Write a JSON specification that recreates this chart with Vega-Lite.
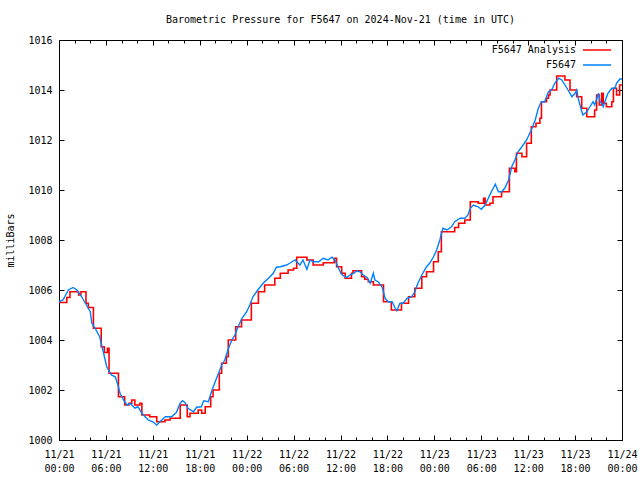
{
  "$schema": "https://vega.github.io/schema/vega-lite/v6.json",
  "width": 563,
  "height": 400,
  "autosize": {"type": "none"},
  "padding": {"left": 59, "top": 40, "right": 18, "bottom": 40},
  "background": "white",
  "title": {"text": "Barometric Pressure for F5647 on 2024-Nov-21 (time in UTC)", "font": "DejaVu Sans Mono", "fontSize": 10, "fontWeight": "normal", "color": "black", "anchor": "middle", "offset": 10},
  "config": {
    "font": "DejaVu Sans Mono",
    "view": {"stroke": "black", "strokeWidth": 1},
    "axis": {"labelFont": "DejaVu Sans Mono", "labelFontSize": 10, "labelColor": "black", "domain": false, "ticks": true, "tickColor": "black", "tickWidth": 1, "tickOpacity": 1, "grid": false, "zindex": 2, "titleFont": "DejaVu Sans Mono", "titleFontSize": 10, "titleFontWeight": "normal", "titleColor": "black", "labelFlush": false, "labelOverlap": false, "labelBound": false}
  },
  "datasets": {
    "obs": [
      {"time": "2024-11-21T00:00:00Z", "pressure": 1005.53},
      {"time": "2024-11-21T00:30:00Z", "pressure": 1005.6},
      {"time": "2024-11-21T01:12:00Z", "pressure": 1006.0},
      {"time": "2024-11-21T01:48:00Z", "pressure": 1006.1},
      {"time": "2024-11-21T02:18:00Z", "pressure": 1006.0},
      {"time": "2024-11-21T02:54:00Z", "pressure": 1005.73},
      {"time": "2024-11-21T03:30:00Z", "pressure": 1005.4},
      {"time": "2024-11-21T04:00:00Z", "pressure": 1005.13},
      {"time": "2024-11-21T04:12:00Z", "pressure": 1004.67},
      {"time": "2024-11-21T04:36:00Z", "pressure": 1004.48},
      {"time": "2024-11-21T05:12:00Z", "pressure": 1004.13},
      {"time": "2024-11-21T05:42:00Z", "pressure": 1003.48},
      {"time": "2024-11-21T06:06:00Z", "pressure": 1002.93},
      {"time": "2024-11-21T06:42:00Z", "pressure": 1002.6},
      {"time": "2024-11-21T07:12:00Z", "pressure": 1002.53},
      {"time": "2024-11-21T07:36:00Z", "pressure": 1002.13},
      {"time": "2024-11-21T07:48:00Z", "pressure": 1001.87},
      {"time": "2024-11-21T08:24:00Z", "pressure": 1001.53},
      {"time": "2024-11-21T08:42:00Z", "pressure": 1001.4},
      {"time": "2024-11-21T09:06:00Z", "pressure": 1001.47},
      {"time": "2024-11-21T09:42:00Z", "pressure": 1001.27},
      {"time": "2024-11-21T10:06:00Z", "pressure": 1001.33},
      {"time": "2024-11-21T10:36:00Z", "pressure": 1001.07},
      {"time": "2024-11-21T11:24:00Z", "pressure": 1000.8},
      {"time": "2024-11-21T12:00:00Z", "pressure": 1000.73},
      {"time": "2024-11-21T12:30:00Z", "pressure": 1000.6},
      {"time": "2024-11-21T12:54:00Z", "pressure": 1000.73},
      {"time": "2024-11-21T13:36:00Z", "pressure": 1000.93},
      {"time": "2024-11-21T14:24:00Z", "pressure": 1000.93},
      {"time": "2024-11-21T15:00:00Z", "pressure": 1001.1},
      {"time": "2024-11-21T15:30:00Z", "pressure": 1001.47},
      {"time": "2024-11-21T15:48:00Z", "pressure": 1001.57},
      {"time": "2024-11-21T16:06:00Z", "pressure": 1001.5},
      {"time": "2024-11-21T16:30:00Z", "pressure": 1001.27},
      {"time": "2024-11-21T17:12:00Z", "pressure": 1001.13},
      {"time": "2024-11-21T17:36:00Z", "pressure": 1001.31},
      {"time": "2024-11-21T18:12:00Z", "pressure": 1001.33},
      {"time": "2024-11-21T18:30:00Z", "pressure": 1001.57},
      {"time": "2024-11-21T19:06:00Z", "pressure": 1001.53},
      {"time": "2024-11-21T19:30:00Z", "pressure": 1001.93},
      {"time": "2024-11-21T19:54:00Z", "pressure": 1002.27},
      {"time": "2024-11-21T20:24:00Z", "pressure": 1002.67},
      {"time": "2024-11-21T20:48:00Z", "pressure": 1003.0},
      {"time": "2024-11-21T21:12:00Z", "pressure": 1003.2},
      {"time": "2024-11-21T21:36:00Z", "pressure": 1003.6},
      {"time": "2024-11-21T22:06:00Z", "pressure": 1004.0},
      {"time": "2024-11-21T22:30:00Z", "pressure": 1004.2},
      {"time": "2024-11-21T22:54:00Z", "pressure": 1004.53},
      {"time": "2024-11-21T23:24:00Z", "pressure": 1004.87},
      {"time": "2024-11-22T00:00:00Z", "pressure": 1005.13},
      {"time": "2024-11-22T00:24:00Z", "pressure": 1005.4},
      {"time": "2024-11-22T00:48:00Z", "pressure": 1005.73},
      {"time": "2024-11-22T01:30:00Z", "pressure": 1006.03},
      {"time": "2024-11-22T02:06:00Z", "pressure": 1006.27},
      {"time": "2024-11-22T02:48:00Z", "pressure": 1006.47},
      {"time": "2024-11-22T03:24:00Z", "pressure": 1006.67},
      {"time": "2024-11-22T03:48:00Z", "pressure": 1006.91},
      {"time": "2024-11-22T04:18:00Z", "pressure": 1006.93},
      {"time": "2024-11-22T05:06:00Z", "pressure": 1007.0},
      {"time": "2024-11-22T05:30:00Z", "pressure": 1007.07},
      {"time": "2024-11-22T06:12:00Z", "pressure": 1007.2},
      {"time": "2024-11-22T06:48:00Z", "pressure": 1007.0},
      {"time": "2024-11-22T07:12:00Z", "pressure": 1007.2},
      {"time": "2024-11-22T07:42:00Z", "pressure": 1006.83},
      {"time": "2024-11-22T08:06:00Z", "pressure": 1007.2},
      {"time": "2024-11-22T08:30:00Z", "pressure": 1007.13},
      {"time": "2024-11-22T09:12:00Z", "pressure": 1007.13},
      {"time": "2024-11-22T09:48:00Z", "pressure": 1007.27},
      {"time": "2024-11-22T10:24:00Z", "pressure": 1007.2},
      {"time": "2024-11-22T10:54:00Z", "pressure": 1007.31},
      {"time": "2024-11-22T11:18:00Z", "pressure": 1007.2},
      {"time": "2024-11-22T11:42:00Z", "pressure": 1006.9},
      {"time": "2024-11-22T12:06:00Z", "pressure": 1006.65},
      {"time": "2024-11-22T12:30:00Z", "pressure": 1006.53},
      {"time": "2024-11-22T12:48:00Z", "pressure": 1006.5},
      {"time": "2024-11-22T13:12:00Z", "pressure": 1006.6},
      {"time": "2024-11-22T13:42:00Z", "pressure": 1006.67},
      {"time": "2024-11-22T14:06:00Z", "pressure": 1006.77},
      {"time": "2024-11-22T14:30:00Z", "pressure": 1006.73},
      {"time": "2024-11-22T14:54:00Z", "pressure": 1006.6},
      {"time": "2024-11-22T15:24:00Z", "pressure": 1006.5},
      {"time": "2024-11-22T15:48:00Z", "pressure": 1006.27},
      {"time": "2024-11-22T16:12:00Z", "pressure": 1006.67},
      {"time": "2024-11-22T16:24:00Z", "pressure": 1006.4},
      {"time": "2024-11-22T16:48:00Z", "pressure": 1006.33},
      {"time": "2024-11-22T17:18:00Z", "pressure": 1006.13},
      {"time": "2024-11-22T17:30:00Z", "pressure": 1005.93},
      {"time": "2024-11-22T17:42:00Z", "pressure": 1005.67},
      {"time": "2024-11-22T18:06:00Z", "pressure": 1005.53},
      {"time": "2024-11-22T18:36:00Z", "pressure": 1005.53},
      {"time": "2024-11-22T19:00:00Z", "pressure": 1005.27},
      {"time": "2024-11-22T19:12:00Z", "pressure": 1005.17},
      {"time": "2024-11-22T19:36:00Z", "pressure": 1005.47},
      {"time": "2024-11-22T20:00:00Z", "pressure": 1005.47},
      {"time": "2024-11-22T20:30:00Z", "pressure": 1005.67},
      {"time": "2024-11-22T21:06:00Z", "pressure": 1005.73},
      {"time": "2024-11-22T21:30:00Z", "pressure": 1005.93},
      {"time": "2024-11-22T21:54:00Z", "pressure": 1006.27},
      {"time": "2024-11-22T22:24:00Z", "pressure": 1006.6},
      {"time": "2024-11-22T23:00:00Z", "pressure": 1006.93},
      {"time": "2024-11-22T23:24:00Z", "pressure": 1007.07},
      {"time": "2024-11-22T23:54:00Z", "pressure": 1007.33},
      {"time": "2024-11-23T00:18:00Z", "pressure": 1007.6},
      {"time": "2024-11-23T00:42:00Z", "pressure": 1008.0},
      {"time": "2024-11-23T01:06:00Z", "pressure": 1008.47},
      {"time": "2024-11-23T01:36:00Z", "pressure": 1008.4},
      {"time": "2024-11-23T02:12:00Z", "pressure": 1008.53},
      {"time": "2024-11-23T02:36:00Z", "pressure": 1008.73},
      {"time": "2024-11-23T03:18:00Z", "pressure": 1008.87},
      {"time": "2024-11-23T03:54:00Z", "pressure": 1008.87},
      {"time": "2024-11-23T04:18:00Z", "pressure": 1009.0},
      {"time": "2024-11-23T04:36:00Z", "pressure": 1009.27},
      {"time": "2024-11-23T05:00:00Z", "pressure": 1009.4},
      {"time": "2024-11-23T05:36:00Z", "pressure": 1009.33},
      {"time": "2024-11-23T06:00:00Z", "pressure": 1009.23},
      {"time": "2024-11-23T06:30:00Z", "pressure": 1009.4},
      {"time": "2024-11-23T06:54:00Z", "pressure": 1009.67},
      {"time": "2024-11-23T07:18:00Z", "pressure": 1009.93},
      {"time": "2024-11-23T07:48:00Z", "pressure": 1010.23},
      {"time": "2024-11-23T08:12:00Z", "pressure": 1009.93},
      {"time": "2024-11-23T08:36:00Z", "pressure": 1009.93},
      {"time": "2024-11-23T09:00:00Z", "pressure": 1010.07},
      {"time": "2024-11-23T09:30:00Z", "pressure": 1010.4},
      {"time": "2024-11-23T09:54:00Z", "pressure": 1010.93},
      {"time": "2024-11-23T10:18:00Z", "pressure": 1011.2},
      {"time": "2024-11-23T10:42:00Z", "pressure": 1011.53},
      {"time": "2024-11-23T11:12:00Z", "pressure": 1011.73},
      {"time": "2024-11-23T11:48:00Z", "pressure": 1012.0},
      {"time": "2024-11-23T12:24:00Z", "pressure": 1012.4},
      {"time": "2024-11-23T12:54:00Z", "pressure": 1012.8},
      {"time": "2024-11-23T13:18:00Z", "pressure": 1013.27},
      {"time": "2024-11-23T13:42:00Z", "pressure": 1013.53},
      {"time": "2024-11-23T14:06:00Z", "pressure": 1013.53},
      {"time": "2024-11-23T14:36:00Z", "pressure": 1013.93},
      {"time": "2024-11-23T15:00:00Z", "pressure": 1014.0},
      {"time": "2024-11-23T15:24:00Z", "pressure": 1014.27},
      {"time": "2024-11-23T15:54:00Z", "pressure": 1014.47},
      {"time": "2024-11-23T16:18:00Z", "pressure": 1014.4},
      {"time": "2024-11-23T16:42:00Z", "pressure": 1014.2},
      {"time": "2024-11-23T17:06:00Z", "pressure": 1014.0},
      {"time": "2024-11-23T17:36:00Z", "pressure": 1013.73},
      {"time": "2024-11-23T18:00:00Z", "pressure": 1013.87},
      {"time": "2024-11-23T18:12:00Z", "pressure": 1014.0},
      {"time": "2024-11-23T18:24:00Z", "pressure": 1013.67},
      {"time": "2024-11-23T18:48:00Z", "pressure": 1013.2},
      {"time": "2024-11-23T19:00:00Z", "pressure": 1013.0},
      {"time": "2024-11-23T19:30:00Z", "pressure": 1013.13},
      {"time": "2024-11-23T19:54:00Z", "pressure": 1013.33},
      {"time": "2024-11-23T20:18:00Z", "pressure": 1013.53},
      {"time": "2024-11-23T20:30:00Z", "pressure": 1013.4},
      {"time": "2024-11-23T21:00:00Z", "pressure": 1013.87},
      {"time": "2024-11-23T21:12:00Z", "pressure": 1013.53},
      {"time": "2024-11-23T21:24:00Z", "pressure": 1013.47},
      {"time": "2024-11-23T21:36:00Z", "pressure": 1013.33},
      {"time": "2024-11-23T21:48:00Z", "pressure": 1013.53},
      {"time": "2024-11-23T22:12:00Z", "pressure": 1013.87},
      {"time": "2024-11-23T22:42:00Z", "pressure": 1014.07},
      {"time": "2024-11-23T23:06:00Z", "pressure": 1014.07},
      {"time": "2024-11-23T23:18:00Z", "pressure": 1014.27},
      {"time": "2024-11-23T23:42:00Z", "pressure": 1014.43},
      {"time": "2024-11-24T00:00:00Z", "pressure": 1014.45}
    ],
    "analysis": [
      {"time": "2024-11-21T00:00:00Z", "pressure": 1005.5},
      {"time": "2024-11-21T01:00:00Z", "pressure": 1005.7},
      {"time": "2024-11-21T01:24:00Z", "pressure": 1005.93},
      {"time": "2024-11-21T02:30:00Z", "pressure": 1005.8},
      {"time": "2024-11-21T02:48:00Z", "pressure": 1005.93},
      {"time": "2024-11-21T03:27:00Z", "pressure": 1005.47},
      {"time": "2024-11-21T03:45:00Z", "pressure": 1005.3},
      {"time": "2024-11-21T04:24:00Z", "pressure": 1004.47},
      {"time": "2024-11-21T05:24:00Z", "pressure": 1003.73},
      {"time": "2024-11-21T05:48:00Z", "pressure": 1003.5},
      {"time": "2024-11-21T06:12:00Z", "pressure": 1003.67},
      {"time": "2024-11-21T06:24:00Z", "pressure": 1002.67},
      {"time": "2024-11-21T07:36:00Z", "pressure": 1001.73},
      {"time": "2024-11-21T08:24:00Z", "pressure": 1001.4},
      {"time": "2024-11-21T08:57:00Z", "pressure": 1001.47},
      {"time": "2024-11-21T09:18:00Z", "pressure": 1001.6},
      {"time": "2024-11-21T09:42:00Z", "pressure": 1001.4},
      {"time": "2024-11-21T10:21:00Z", "pressure": 1001.47},
      {"time": "2024-11-21T10:36:00Z", "pressure": 1001.0},
      {"time": "2024-11-21T11:36:00Z", "pressure": 1000.93},
      {"time": "2024-11-21T12:30:00Z", "pressure": 1000.73},
      {"time": "2024-11-21T13:33:00Z", "pressure": 1000.8},
      {"time": "2024-11-21T14:12:00Z", "pressure": 1000.87},
      {"time": "2024-11-21T15:30:00Z", "pressure": 1001.4},
      {"time": "2024-11-21T16:24:00Z", "pressure": 1000.93},
      {"time": "2024-11-21T16:45:00Z", "pressure": 1001.07},
      {"time": "2024-11-21T17:48:00Z", "pressure": 1001.2},
      {"time": "2024-11-21T18:15:00Z", "pressure": 1001.07},
      {"time": "2024-11-21T18:42:00Z", "pressure": 1001.33},
      {"time": "2024-11-21T19:24:00Z", "pressure": 1001.73},
      {"time": "2024-11-21T19:42:00Z", "pressure": 1002.0},
      {"time": "2024-11-21T20:30:00Z", "pressure": 1002.67},
      {"time": "2024-11-21T20:48:00Z", "pressure": 1003.07},
      {"time": "2024-11-21T21:24:00Z", "pressure": 1003.33},
      {"time": "2024-11-21T21:39:00Z", "pressure": 1004.0},
      {"time": "2024-11-21T22:36:00Z", "pressure": 1004.53},
      {"time": "2024-11-21T23:21:00Z", "pressure": 1004.8},
      {"time": "2024-11-22T00:36:00Z", "pressure": 1005.47},
      {"time": "2024-11-22T01:30:00Z", "pressure": 1005.93},
      {"time": "2024-11-22T02:18:00Z", "pressure": 1006.2},
      {"time": "2024-11-22T03:36:00Z", "pressure": 1006.47},
      {"time": "2024-11-22T04:18:00Z", "pressure": 1006.67},
      {"time": "2024-11-22T05:18:00Z", "pressure": 1006.8},
      {"time": "2024-11-22T06:00:00Z", "pressure": 1006.87},
      {"time": "2024-11-22T06:24:00Z", "pressure": 1007.31},
      {"time": "2024-11-22T07:42:00Z", "pressure": 1007.2},
      {"time": "2024-11-22T08:30:00Z", "pressure": 1007.0},
      {"time": "2024-11-22T09:48:00Z", "pressure": 1007.09},
      {"time": "2024-11-22T11:12:00Z", "pressure": 1007.27},
      {"time": "2024-11-22T11:30:00Z", "pressure": 1006.93},
      {"time": "2024-11-22T12:09:00Z", "pressure": 1006.67},
      {"time": "2024-11-22T12:36:00Z", "pressure": 1006.47},
      {"time": "2024-11-22T13:24:00Z", "pressure": 1006.67},
      {"time": "2024-11-22T13:36:00Z", "pressure": 1006.77},
      {"time": "2024-11-22T14:42:00Z", "pressure": 1006.53},
      {"time": "2024-11-22T15:06:00Z", "pressure": 1006.43},
      {"time": "2024-11-22T15:33:00Z", "pressure": 1006.33},
      {"time": "2024-11-22T16:12:00Z", "pressure": 1006.2},
      {"time": "2024-11-22T17:30:00Z", "pressure": 1005.53},
      {"time": "2024-11-22T18:30:00Z", "pressure": 1005.2},
      {"time": "2024-11-22T19:48:00Z", "pressure": 1005.47},
      {"time": "2024-11-22T20:42:00Z", "pressure": 1005.73},
      {"time": "2024-11-22T21:30:00Z", "pressure": 1006.07},
      {"time": "2024-11-22T22:24:00Z", "pressure": 1006.53},
      {"time": "2024-11-22T23:00:00Z", "pressure": 1006.73},
      {"time": "2024-11-22T23:54:00Z", "pressure": 1007.13},
      {"time": "2024-11-23T00:30:00Z", "pressure": 1007.53},
      {"time": "2024-11-23T00:54:00Z", "pressure": 1008.33},
      {"time": "2024-11-23T02:36:00Z", "pressure": 1008.5},
      {"time": "2024-11-23T03:06:00Z", "pressure": 1008.67},
      {"time": "2024-11-23T03:54:00Z", "pressure": 1008.8},
      {"time": "2024-11-23T04:36:00Z", "pressure": 1009.53},
      {"time": "2024-11-23T05:36:00Z", "pressure": 1009.47},
      {"time": "2024-11-23T06:18:00Z", "pressure": 1009.67},
      {"time": "2024-11-23T06:30:00Z", "pressure": 1009.4},
      {"time": "2024-11-23T07:06:00Z", "pressure": 1009.47},
      {"time": "2024-11-23T07:30:00Z", "pressure": 1009.73},
      {"time": "2024-11-23T08:36:00Z", "pressure": 1009.93},
      {"time": "2024-11-23T09:36:00Z", "pressure": 1010.87},
      {"time": "2024-11-23T10:18:00Z", "pressure": 1010.73},
      {"time": "2024-11-23T10:30:00Z", "pressure": 1011.47},
      {"time": "2024-11-23T11:12:00Z", "pressure": 1011.33},
      {"time": "2024-11-23T11:48:00Z", "pressure": 1011.87},
      {"time": "2024-11-23T12:24:00Z", "pressure": 1012.53},
      {"time": "2024-11-23T13:00:00Z", "pressure": 1012.67},
      {"time": "2024-11-23T13:30:00Z", "pressure": 1012.87},
      {"time": "2024-11-23T13:42:00Z", "pressure": 1013.53},
      {"time": "2024-11-23T14:21:00Z", "pressure": 1013.67},
      {"time": "2024-11-23T14:36:00Z", "pressure": 1013.8},
      {"time": "2024-11-23T14:48:00Z", "pressure": 1014.0},
      {"time": "2024-11-23T15:39:00Z", "pressure": 1014.56},
      {"time": "2024-11-23T16:42:00Z", "pressure": 1014.4},
      {"time": "2024-11-23T17:21:00Z", "pressure": 1014.0},
      {"time": "2024-11-23T18:12:00Z", "pressure": 1013.73},
      {"time": "2024-11-23T18:51:00Z", "pressure": 1013.27},
      {"time": "2024-11-23T19:30:00Z", "pressure": 1012.93},
      {"time": "2024-11-23T20:30:00Z", "pressure": 1013.2},
      {"time": "2024-11-23T20:45:00Z", "pressure": 1013.8},
      {"time": "2024-11-23T21:06:00Z", "pressure": 1013.4},
      {"time": "2024-11-23T21:24:00Z", "pressure": 1013.87},
      {"time": "2024-11-23T21:36:00Z", "pressure": 1013.47},
      {"time": "2024-11-23T22:00:00Z", "pressure": 1013.33},
      {"time": "2024-11-23T22:42:00Z", "pressure": 1013.53},
      {"time": "2024-11-23T22:54:00Z", "pressure": 1014.07},
      {"time": "2024-11-23T23:18:00Z", "pressure": 1013.8},
      {"time": "2024-11-23T23:42:00Z", "pressure": 1014.2},
      {"time": "2024-11-24T00:00:00Z", "pressure": 1014.2}
    ]
  },
  "layer": [
    {
      "data": {"name": "analysis"},
      "transform": [{"calculate": "'F5647 Analysis'", "as": "series"}],
      "mark": {"type": "line", "interpolate": "step-after", "strokeWidth": 1.6},
      "encoding": {
        "x": {"field": "time", "type": "temporal",
          "scale": {"type": "utc", "domain": [1732147200000, 1732406400000], "nice": false},
          "axis": {"orient": "bottom", "title": null, "values": [1732147200000, 1732168800000, 1732190400000, 1732212000000, 1732233600000, 1732255200000, 1732276800000, 1732298400000, 1732320000000, 1732341600000, 1732363200000, 1732384800000, 1732406400000], "offset": -5, "tickSize": 5, "labelPadding": 9, "labelBaseline": "top", "labelLineHeight": 14, "labelExpr": "[utcFormat(datum.value, '%m/%d'), utcFormat(datum.value, '%H:%M')]"}},
        "y": {"field": "pressure", "type": "quantitative",
          "scale": {"domain": [1000, 1016], "nice": false, "zero": false},
          "axis": {"orient": "left", "title": "milliBars", "values": [1000, 1002, 1004, 1006, 1008, 1010, 1012, 1014, 1016], "format": "d", "offset": -5, "tickSize": 5, "labelPadding": 7, "titlePadding": 12}},
        "color": {"field": "series", "type": "nominal",
          "scale": {"domain": ["F5647 Analysis", "F5647"], "range": ["#ff0000", "#0080ff"]},
          "legend": {"orient": "none", "legendX": 532, "legendY": 4, "title": null, "symbolType": "M-2.8,0H2.8", "symbolSize": 100, "symbolStrokeWidth": 1.5, "labelAlign": "right", "labelOffset": -27, "labelFont": "DejaVu Sans Mono", "labelFontSize": 10, "labelColor": "black", "padding": 0, "rowPadding": 4}}
      }
    },
    {
      "data": {"name": "obs"},
      "transform": [{"calculate": "'F5647'", "as": "series"}],
      "mark": {"type": "line", "strokeWidth": 1.4},
      "encoding": {
        "x": {"field": "time", "type": "temporal",
          "axis": {"orient": "top", "title": null, "values": [1732147200000, 1732168800000, 1732190400000, 1732212000000, 1732233600000, 1732255200000, 1732276800000, 1732298400000, 1732320000000, 1732341600000, 1732363200000, 1732384800000, 1732406400000], "offset": -5, "tickSize": 5, "labels": false}},
        "y": {"field": "pressure", "type": "quantitative",
          "axis": {"orient": "right", "title": null, "values": [1000, 1002, 1004, 1006, 1008, 1010, 1012, 1014, 1016], "offset": -5, "tickSize": 5, "labels": false}},
        "color": {"field": "series", "type": "nominal"}
      }
    },
    {
      "data": {"name": "obs"},
      "mark": {"type": "line", "opacity": 0},
      "encoding": {
        "x": {"field": "time", "type": "temporal",
          "axis": {"orient": "bottom", "title": null, "values": [1732147200000, 1732154400000, 1732161600000, 1732168800000, 1732176000000, 1732183200000, 1732190400000, 1732197600000, 1732204800000, 1732212000000, 1732219200000, 1732226400000, 1732233600000, 1732240800000, 1732248000000, 1732255200000, 1732262400000, 1732269600000, 1732276800000, 1732284000000, 1732291200000, 1732298400000, 1732305600000, 1732312800000, 1732320000000, 1732327200000, 1732334400000, 1732341600000, 1732348800000, 1732356000000, 1732363200000, 1732370400000, 1732377600000, 1732384800000, 1732392000000, 1732399200000, 1732406400000], "offset": -3, "tickSize": 3, "labels": false}},
        "y": {"field": "pressure", "type": "quantitative", "axis": null}
      }
    },
    {
      "data": {"name": "obs"},
      "mark": {"type": "line", "opacity": 0},
      "encoding": {
        "x": {"field": "time", "type": "temporal",
          "axis": {"orient": "top", "title": null, "values": [1732147200000, 1732154400000, 1732161600000, 1732168800000, 1732176000000, 1732183200000, 1732190400000, 1732197600000, 1732204800000, 1732212000000, 1732219200000, 1732226400000, 1732233600000, 1732240800000, 1732248000000, 1732255200000, 1732262400000, 1732269600000, 1732276800000, 1732284000000, 1732291200000, 1732298400000, 1732305600000, 1732312800000, 1732320000000, 1732327200000, 1732334400000, 1732341600000, 1732348800000, 1732356000000, 1732363200000, 1732370400000, 1732377600000, 1732384800000, 1732392000000, 1732399200000, 1732406400000], "offset": -3, "tickSize": 3, "labels": false}},
        "y": {"field": "pressure", "type": "quantitative", "axis": null}
      }
    }
  ],
  "resolve": {"axis": {"x": "independent", "y": "independent"}}
}
